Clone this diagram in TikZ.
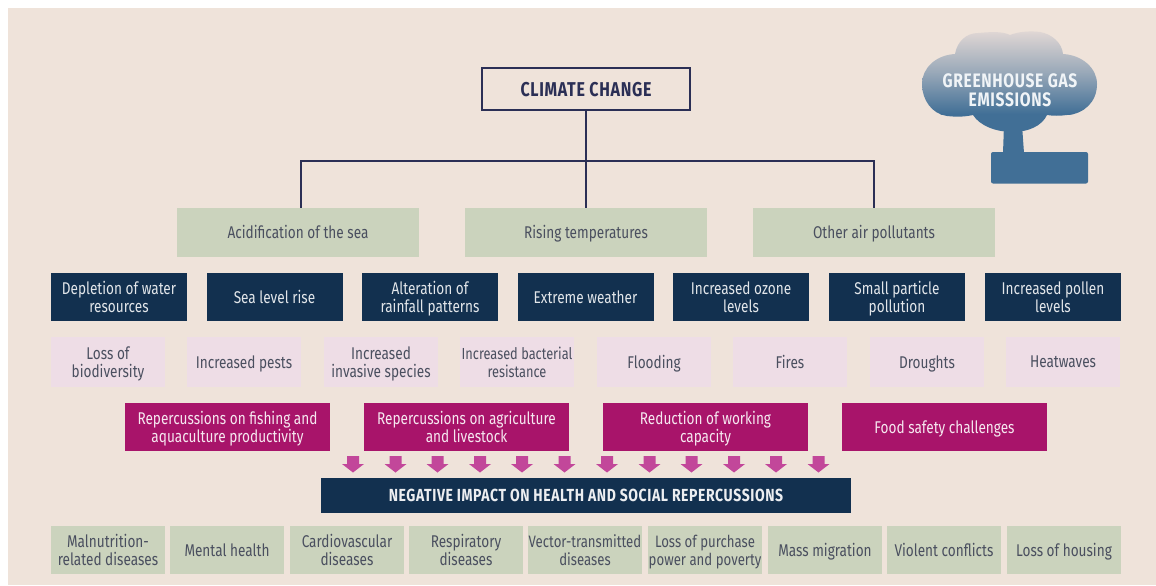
\documentclass[tikz,border=0pt]{standalone}
\usepackage{fontspec}
\setmainfont[FakeStretch=0.8]{Fira Sans}
\definecolor{bgc}{HTML}{EFE3DA}
\definecolor{navy}{HTML}{12304F}
\definecolor{sage}{HTML}{CBD3BD}
\definecolor{lilac}{HTML}{EEDDE6}
\definecolor{mag}{HTML}{A8146A}
\definecolor{arrowc}{HTML}{C2479A}
\definecolor{inkc}{HTML}{4A4F5F}
\definecolor{linec}{HTML}{2B2F55}
\definecolor{steel}{HTML}{416F96}
\definecolor{cloudtop}{HTML}{E2D8D5}
\newcommand{\capsfont}[2]{\fontsize{#1}{#2}\selectfont\bfseries\addfontfeature{LetterSpace=3.4}}
\tikzset{
 box/.style={inner sep=0pt,outer sep=0pt,align=center,font=\fontsize{17}{18}\selectfont,text depth=0pt},
 sagebig/.style={box,fill=sage,text=inkc,minimum width=242,minimum height=49},
 navybox/.style={box,fill=navy,text=white!88!navy,minimum width=136,minimum height=48},
 lilacbox/.style={box,fill=lilac,text=inkc,minimum width=114,minimum height=50},
 magbox/.style={box,fill=mag,text=white!90!mag,minimum width=205,minimum height=48},
 sagesmall/.style={box,fill=sage,text=inkc,minimum width=114,minimum height=48},
 downarrow/.style={fill=arrowc,draw=none},
 conn/.style={draw=linec,line width=2pt},
}
\begin{document}
\begin{tikzpicture}[x=1pt,y=-1pt]
\useasboundingbox (0,0) rectangle (1156,586);
\fill[white] (0,0) rectangle (1156,586);
\fill[bgc] (8,8) rectangle (1156,585);
% chimney / cloud
\fill[steel] (1004,125) -- (1003,153) -- (1024,153) -- (1022,125) -- cycle;
\fill[steel,rounded corners=2pt] (991,152) rectangle (1088,183.5);
\begin{scope}
\path[clip] (1013,132)
 .. controls (996,132) and (980,126) .. (973,115)
 .. controls (964,117) and (956,117) .. (947,116)
 .. controls (932,114) and (922,100) .. (922,84)
 .. controls (922,68) and (936,55) .. (955,54)
 .. controls (957,42) and (966,33) .. (978,33)
 .. controls (990,32) and (1002,31) .. (1010,35)
 .. controls (1020,31) and (1032,31) .. (1040,32)
 .. controls (1052,34) and (1062,43) .. (1063,54)
 .. controls (1082,55) and (1097,68) .. (1097,84)
 .. controls (1097,102) and (1084,114) .. (1067,115)
 .. controls (1060,116) and (1053,116) .. (1047,115)
 .. controls (1042,126) and (1028,132) .. (1013,132) -- cycle;
\shade[top color=cloudtop,bottom color=steel,middle color=steel!45!cloudtop] (915,30) rectangle (1100,114);
\fill[steel] (915,113.5) rectangle (1100,135);
\end{scope}
\node[box,text=white!92!steel,font=\capsfont{19.5}{18.5}] (ghg) at (1010,90) {GREENHOUSE GAS\\EMISSIONS};
% title and connectors
\node[box,draw=linec,line width=2.4pt,fill=bgc,text=linec,minimum width=208,minimum height=42,font=\capsfont{20}{22}] (cc) at (586,89) {CLIMATE CHANGE};
\node[sagebig] (a1) at (298,232) {Acidification of the sea};
\node[sagebig] (a2) at (586,232) {Rising temperatures};
\node[sagebig] (a3) at (874,232) {Other air pollutants};
\coordinate (bar) at (586,161);
\draw[conn] (cc.south) -- (a2.north);
\draw[conn] (a1.north -| 301,0) |- (bar) -| (a3.north);
% navy
\node[navybox] (n1) at (119,297) {Depletion of water\\resources};
\node[navybox] (n2) at (274.5,297) {Sea level rise};
\node[navybox] (n3) at (430,297) {Alteration of\\rainfall patterns};
\node[navybox] (n4) at (585.5,297) {Extreme weather};
\node[navybox] (n5) at (741,297) {Increased ozone\\levels};
\node[navybox] (n6) at (897,297) {Small particle\\pollution};
\node[navybox] (n7) at (1053,297) {Increased pollen\\levels};
% lilac
\node[lilacbox] (l1) at (108,362) {Loss of\\biodiversity};
\node[lilacbox] (l2) at (244,362) {Increased pests};
\node[lilacbox] (l3) at (381,362) {Increased\\invasive species};
\node[lilacbox,font=\fontsize{16}{18}\selectfont] (l4) at (517,362) {Increased bacterial\\resistance};
\node[lilacbox] (l5) at (654,362) {Flooding};
\node[lilacbox] (l6) at (790,362) {Fires};
\node[lilacbox] (l7) at (927,362) {Droughts};
\node[lilacbox] (l8) at (1063,362) {Heatwaves};
% magenta
\node[magbox] (m1) at (227.5,427) {Repercussions on fishing and\\aquaculture productivity};
\node[magbox] (m2) at (466.5,427) {Repercussions on agriculture\\and livestock};
\node[magbox] (m3) at (705.5,427) {Reduction of working\\capacity};
\node[magbox] (m4) at (944.5,427) {Food safety challenges};
% arrows
\foreach \x in {353,395.5,437.5,480,522,564.5,607,649.5,691.5,734,776,818.5}
  \fill[downarrow,shift={(\x,456)}] (-6,0) -- (6,0) -- (6,8) -- (11,8) -- (0,16.5) -- (-11,8) -- (-6,8) -- cycle;
% impact
\node[box,fill=navy,text=white!92!navy,minimum width=530,minimum height=35,font=\capsfont{17.5}{20}] (imp) at (586,495.5) {NEGATIVE IMPACT ON HEALTH AND SOCIAL REPERCUSSIONS};
% bottom
\node[sagesmall] (s1) at (108,550) {Malnutrition-\\related diseases};
\node[sagesmall] (s2) at (227,550) {Mental health};
\node[sagesmall] (s3) at (347,550) {Cardiovascular\\diseases};
\node[sagesmall] (s4) at (466,550) {Respiratory\\diseases};
\node[sagesmall,font=\fontsize{16.5}{18}\selectfont] (s5) at (585,550) {Vector-transmitted\\diseases};
\node[sagesmall,font=\fontsize{16.5}{18}\selectfont] (s6) at (705,550) {Loss of purchase\\power and poverty};
\node[sagesmall] (s7) at (825,550) {Mass migration};
\node[sagesmall] (s8) at (944,550) {Violent conflicts};
\node[sagesmall] (s9) at (1064,550) {Loss of housing};
\end{tikzpicture}
\end{document}
